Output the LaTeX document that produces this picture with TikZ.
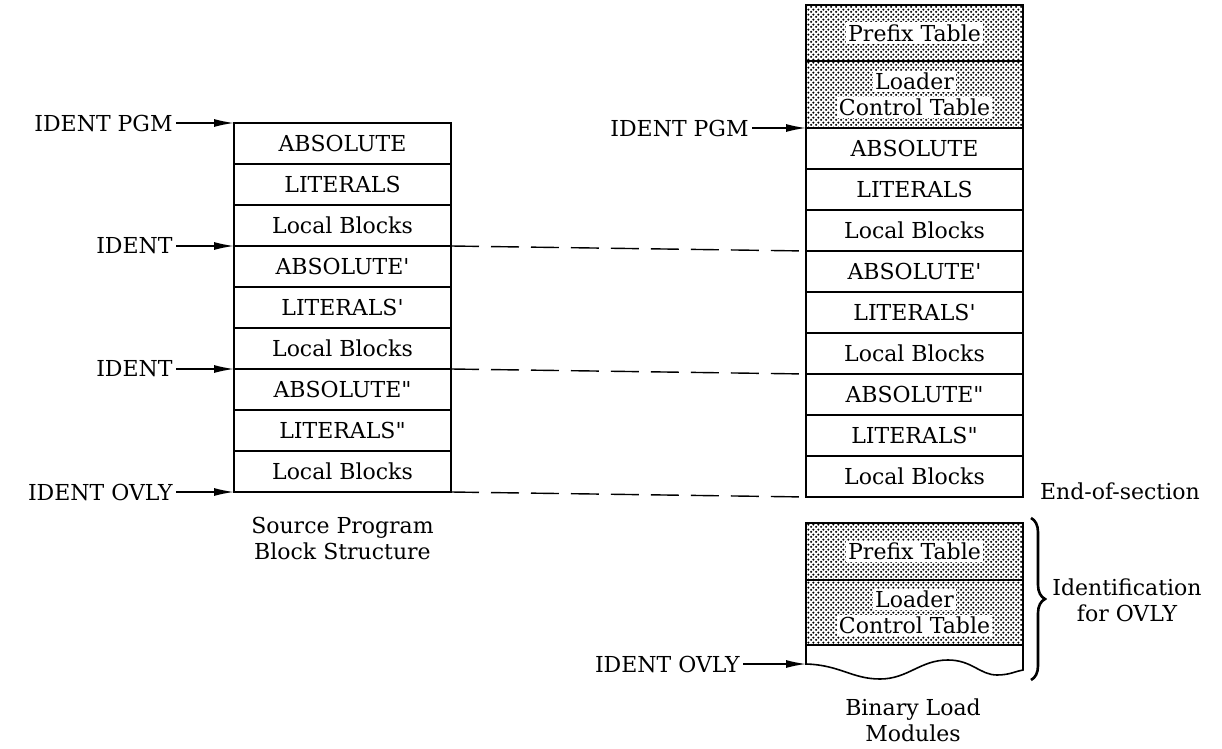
\documentclass[tikz,border=0pt]{standalone}
\usepackage{fontspec}
\setmainfont{DejaVu Serif}
\usetikzlibrary{arrows.meta,patterns,patterns.meta,decorations.pathreplacing}
\tikzdeclarepattern{
    name=bigdots,
    type=uncolored,
    bottom left={(0pt,0pt)},
    top right={(2.6pt,2.6pt)},
    tile size={(2.6pt,2.6pt)},
    code={
        \pgfpathcircle{\pgfqpoint{0.65pt}{0.65pt}}{0.68pt}
        \pgfpathcircle{\pgfqpoint{1.95pt}{1.95pt}}{0.68pt}
        \pgfusepath{fill}
    }}
\tikzset{
    blk/.style={draw, rectangle, inner sep=0pt, outer sep=0pt, minimum width=108.5pt, minimum height=20.5pt, line width=0.7pt},
    shd/.style={blk, pattern=bigdots},
    lbl/.style={inner sep=1.5pt, anchor=east},
    txt/.style={fill=white, inner sep=1pt},
    ptr/.style={-{Latex[length=10pt,width=4pt]}, line width=0.7pt}}
\begin{document}
\begin{tikzpicture}[x=0.5pt, y=-0.5pt, font=\fontsize{11}{13}\selectfont]
\useasboundingbox (0,0) rectangle (1222,749);

% source program
\node[blk] (l1) at (342.5,143.5) {ABSOLUTE};
\node[blk] (l2) at (342.5,184.5) {LITERALS};
\node[blk] (l3) at (342.5,225.5) {Local Blocks};
\node[blk] (l4) at (342.5,266.5) {ABSOLUTE\textquotesingle};
\node[blk] (l5) at (342.5,307.5) {LITERALS\textquotesingle};
\node[blk] (l6) at (342.5,348.5) {Local Blocks};
\node[blk] (l7) at (342.5,389.5) {ABSOLUTE\textquotedbl};
\node[blk] (l8) at (342.5,430.5) {LITERALS\textquotedbl};
\node[blk] (l9) at (342.5,471.5) {Local Blocks};
\node[align=center] (src) at (342.5,538) {Source Program\\Block Structure};

% load module
\node[shd, minimum height=28pt] (rp) at (914.5,33) {};
\node[txt] at (rp) {Prefix Table};
\node[shd, minimum height=33.5pt] (rl) at (914.5,94.5) {};
\node[txt] at ([yshift=6.5pt]rl.center) {Loader};
\node[txt] at ([yshift=-6.5pt]rl.center) {Control Table};
\node[blk] (r1) at (914.5,148.5) {ABSOLUTE};
\node[blk] (r2) at (914.5,189.5) {LITERALS};
\node[blk] (r3) at (914.5,230.5) {Local Blocks};
\node[blk] (r4) at (914.5,271.5) {ABSOLUTE\textquotesingle};
\node[blk] (r5) at (914.5,312.5) {LITERALS\textquotesingle};
\node[blk] (r6) at (914.5,353.5) {Local Blocks};
\node[blk] (r7) at (914.5,394.5) {ABSOLUTE\textquotedbl};
\node[blk] (r8) at (914.5,435.5) {LITERALS\textquotedbl};
\node[blk] (r9) at (914.5,476.5) {Local Blocks};
\node[anchor=west] (eos) at (1033,491) {End-of-section};

% overlay identification
\node[shd, minimum height=28.5pt, line width=1pt] (bp) at (914.5,551.5) {};
\node[txt] at (bp) {Prefix Table};
\node[shd, minimum height=32.5pt, line width=1pt] (bl) at (914.5,612.5) {};
\node[txt] at ([yshift=6.5pt]bl.center) {Loader};
\node[txt] at ([yshift=-6.5pt]bl.center) {Control Table};
\coordinate (w1) at (806,664);
\coordinate (w2) at (1023,670);
\draw[line width=0.8pt] (bl.south west) -- (w1) .. controls (840,665) and (852,679) .. (880,679) .. controls (908,679) and (920,660) .. (948,660) .. controls (972,660) and (980,675) .. (997,675) .. controls (1010,675) and (1016,671) .. (w2) -- (bl.south east);
\draw[decorate, decoration={brace, amplitude=7pt}, line width=1.3pt] (1031,518) -- (1031,680);
\node[align=center] (idn) at (1127,600) {Identification\\for OVLY};
\node[align=center] (blm) at (913,720) {Binary Load\\Modules};

% pointers
\node[lbl] (a1) at (176,123) {IDENT PGM};
\node[lbl] (a2) at (176,246) {IDENT};
\node[lbl] (a3) at (176,369) {IDENT};
\node[lbl] (a4) at (176,492) {IDENT OVLY};
\node[lbl] (a5) at (752,128) {IDENT PGM};
\node[lbl] (a6) at (743,664) {IDENT OVLY};
\draw[ptr] (a1.east) -- (l1.north west);
\draw[ptr] (a2.east) -- (l3.south west);
\draw[ptr] (a3.east) -- (l6.south west);
\draw[ptr] (a4.east) -- (l9.south west);
\draw[ptr] (a5.east) -- (r1.north west);
\draw[ptr] (a6.east) -- (w1);

\draw[dash pattern=on 14pt off 6pt, line width=0.7pt] (l3.south east) -- (r3.south west);
\draw[dash pattern=on 14pt off 6pt, line width=0.7pt] (l6.south east) -- (r6.south west);
\draw[dash pattern=on 14pt off 6pt, line width=0.7pt] (l9.south east) -- (r9.south west);
\end{tikzpicture}
\end{document}
